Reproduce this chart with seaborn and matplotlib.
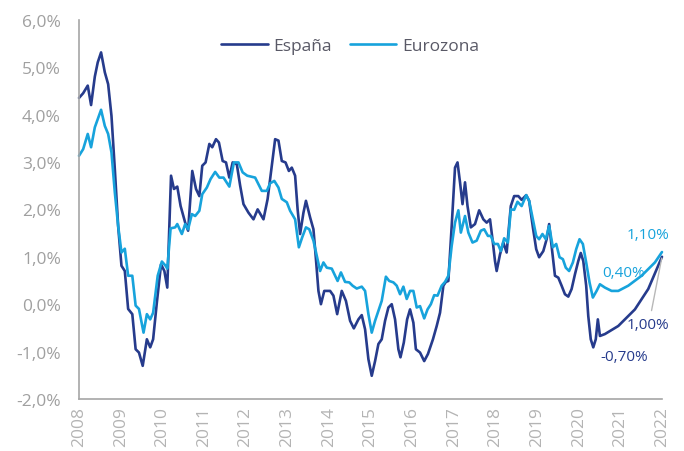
import matplotlib
matplotlib.use("Agg")
import matplotlib.pyplot as plt
import seaborn as sns
import pandas as pd

# ---- data ----
esp_fecha = [2008.00, 2008.10, 2008.21, 2008.29, 2008.38, 2008.45, 2008.53, 2008.62, 2008.70, 2008.78,
             2008.86, 2008.94, 2009.02, 2009.10, 2009.18, 2009.28, 2009.36, 2009.44, 2009.53, 2009.63,
             2009.71, 2009.78, 2009.87, 2009.97, 2010.05, 2010.12, 2010.21, 2010.28, 2010.36, 2010.44,
             2010.55, 2010.62, 2010.72, 2010.81, 2010.89, 2010.96, 2011.04, 2011.13, 2011.20, 2011.29,
             2011.36, 2011.45, 2011.53, 2011.61, 2011.69, 2011.79, 2011.87, 2011.95, 2012.07, 2012.19,
             2012.29, 2012.43, 2012.53, 2012.63, 2012.71, 2012.79, 2012.87, 2012.96, 2013.04, 2013.11,
             2013.19, 2013.25, 2013.31, 2013.39, 2013.45, 2013.55, 2013.63, 2013.69, 2013.75, 2013.81,
             2013.89, 2014.03, 2014.11, 2014.20, 2014.31, 2014.41, 2014.51, 2014.60, 2014.71, 2014.79,
             2014.87, 2014.95, 2015.03, 2015.11, 2015.19, 2015.27, 2015.35, 2015.43, 2015.51, 2015.59,
             2015.67, 2015.72, 2015.80, 2015.88, 2015.95, 2016.03, 2016.09, 2016.19, 2016.29, 2016.38,
             2016.50, 2016.59, 2016.67, 2016.75, 2016.81, 2016.87, 2016.95, 2017.03, 2017.09, 2017.15,
             2017.21, 2017.27, 2017.33, 2017.41, 2017.51, 2017.61, 2017.71, 2017.79, 2017.87, 2017.93,
             2017.99, 2018.03, 2018.11, 2018.19, 2018.27, 2018.37, 2018.45, 2018.55, 2018.63, 2018.74,
             2018.81, 2018.90, 2018.98, 2019.05, 2019.15, 2019.23, 2019.29, 2019.38, 2019.43, 2019.51,
             2019.59, 2019.67, 2019.75, 2019.83, 2019.91, 2019.99, 2020.05, 2020.11, 2020.18, 2020.23,
             2020.29, 2020.35, 2020.41, 2020.46, 2020.51, 2020.63, 2020.95, 2021.35, 2021.67, 2022.00]
esp_valor = [4.35, 4.45, 4.61, 4.20, 4.80, 5.10, 5.31, 4.89, 4.64, 3.97,
             2.85, 1.65, 0.81, 0.70, -0.10, -0.21, -0.95, -1.02, -1.30, -0.74,
             -0.91, -0.74, 0.04, 0.84, 0.70, 0.35, 2.71, 2.43, 2.48, 2.07,
             1.72, 1.55, 2.81, 2.43, 2.28, 2.92, 2.99, 3.38, 3.31, 3.48,
             3.41, 3.02, 2.99, 2.67, 2.99, 2.95, 2.50, 2.11, 1.93, 1.79,
             2.00, 1.79, 2.22, 2.92, 3.48, 3.45, 3.02, 2.99, 2.81, 2.88,
             2.71, 2.00, 1.48, 1.93, 2.18, 1.83, 1.58, 0.95, 0.28, 0.00,
             0.28, 0.28, 0.18, -0.21, 0.28, 0.07, -0.35, -0.51, -0.32, -0.23,
             -0.53, -1.16, -1.51, -1.20, -0.84, -0.74, -0.35, -0.07, 0.00, -0.32,
             -0.95, -1.12, -0.81, -0.32, -0.11, -0.39, -0.95, -1.02, -1.20, -1.05,
             -0.74, -0.46, -0.18, 0.39, 0.47, 0.49, 1.65, 2.88, 2.99, 2.57,
             2.11, 2.57, 2.07, 1.62, 1.69, 1.98, 1.79, 1.72, 1.79, 1.37,
             0.91, 0.70, 1.05, 1.30, 1.09, 2.07, 2.28, 2.28, 2.20, 2.30,
             2.18, 1.62, 1.16, 0.99, 1.12, 1.37, 1.69, 0.99, 0.60, 0.56,
             0.39, 0.21, 0.16, 0.32, 0.63, 0.91, 1.08, 0.91, 0.39, -0.25,
             -0.74, -0.91, -0.74, -0.32, -0.67, -0.63, -0.46, -0.11, 0.32, 1.00]

eur_fecha = [2008.00, 2008.10, 2008.21, 2008.29, 2008.38, 2008.45, 2008.53, 2008.62, 2008.70, 2008.78,
             2008.86, 2008.94, 2009.02, 2009.10, 2009.18, 2009.28, 2009.36, 2009.44, 2009.55, 2009.63,
             2009.71, 2009.78, 2009.89, 2009.99, 2010.08, 2010.12, 2010.20, 2010.31, 2010.36, 2010.47,
             2010.55, 2010.62, 2010.71, 2010.79, 2010.89, 2010.96, 2011.07, 2011.16, 2011.27, 2011.37,
             2011.47, 2011.61, 2011.72, 2011.83, 2011.93, 2012.04, 2012.23, 2012.39, 2012.51, 2012.59,
             2012.69, 2012.79, 2012.87, 2012.99, 2013.07, 2013.19, 2013.28, 2013.36, 2013.45, 2013.53,
             2013.63, 2013.71, 2013.79, 2013.87, 2013.95, 2014.07, 2014.15, 2014.21, 2014.29, 2014.39,
             2014.49, 2014.57, 2014.67, 2014.79, 2014.87, 2014.95, 2015.03, 2015.11, 2015.19, 2015.27,
             2015.37, 2015.45, 2015.55, 2015.63, 2015.71, 2015.79, 2015.87, 2015.95, 2016.03, 2016.11,
             2016.19, 2016.29, 2016.37, 2016.45, 2016.53, 2016.61, 2016.71, 2016.79, 2016.87, 2016.95,
             2017.03, 2017.11, 2017.17, 2017.27, 2017.35, 2017.45, 2017.55, 2017.65, 2017.73, 2017.82,
             2017.89, 2017.97, 2018.06, 2018.13, 2018.21, 2018.30, 2018.37, 2018.45, 2018.53, 2018.63,
             2018.74, 2018.81, 2018.90, 2018.98, 2019.05, 2019.13, 2019.21, 2019.29, 2019.38, 2019.46,
             2019.54, 2019.62, 2019.69, 2019.77, 2019.86, 2019.94, 2020.02, 2020.10, 2020.18, 2020.26,
             2020.34, 2020.43, 2020.51, 2020.63, 2020.79, 2020.95, 2021.19, 2021.51, 2021.83, 2022.00]
eur_valor = [3.13, 3.27, 3.59, 3.31, 3.73, 3.90, 4.10, 3.76, 3.59, 3.20,
             2.36, 1.65, 1.09, 1.17, 0.60, 0.60, -0.03, -0.10, -0.60, -0.21,
             -0.32, -0.18, 0.60, 0.90, 0.81, 0.75, 1.60, 1.62, 1.69, 1.48,
             1.69, 1.58, 1.90, 1.86, 1.97, 2.32, 2.46, 2.64, 2.79, 2.67,
             2.67, 2.48, 2.99, 2.99, 2.78, 2.71, 2.67, 2.39, 2.39, 2.55,
             2.60, 2.46, 2.22, 2.15, 1.97, 1.79, 1.20, 1.41, 1.62, 1.58,
             1.34, 1.02, 0.70, 0.88, 0.77, 0.75, 0.60, 0.49, 0.67, 0.47,
             0.46, 0.39, 0.33, 0.37, 0.28, -0.21, -0.60, -0.35, -0.14, 0.07,
             0.58, 0.49, 0.46, 0.39, 0.21, 0.37, 0.11, 0.28, 0.28, -0.07,
             -0.04, -0.30, -0.11, 0.00, 0.19, 0.18, 0.39, 0.47, 0.60, 1.23,
             1.72, 1.98, 1.51, 1.86, 1.51, 1.30, 1.34, 1.55, 1.58, 1.44,
             1.44, 1.27, 1.27, 1.12, 1.39, 1.30, 2.00, 1.99, 2.16, 2.07,
             2.30, 2.18, 1.79, 1.44, 1.37, 1.48, 1.37, 1.65, 1.20, 1.27,
             0.99, 0.95, 0.77, 0.70, 0.88, 1.16, 1.37, 1.27, 0.88, 0.46,
             0.14, 0.28, 0.42, 0.35, 0.28, 0.28, 0.39, 0.60, 0.88, 1.10]

series = ["España", "Eurozona"]
anios = list(range(2008, 2023))
y_ticks = [-2, -1, 0, 1, 2, 3, 4, 5, 6]
y_labels = ["-2,0%", "-1,0%", "0,0%", "1,0%", "2,0%", "3,0%", "4,0%", "5,0%", "6,0%"]
etiquetas_eur = ["1,10%", "0,40%"]
etiquetas_esp = ["1,00%", "-0,70%"]

COL_ESP = "#263B8C"
COL_EUR = "#17A3DC"
GRIS = "#A6A6A6"

sns.set_theme(style="white")
plt.rcParams['font.family'] = ['Open Sans', 'DejaVu Sans']

fig = plt.figure(figsize=(6.84, 4.52), dpi=100)
ax = fig.add_axes([0.1155, 0.115, 0.8523, 0.8392])

df_esp = pd.DataFrame({"fecha": esp_fecha, "valor": esp_valor})
df_eur = pd.DataFrame({"fecha": eur_fecha, "valor": eur_valor})
sns.lineplot(data=df_esp, x="fecha", y="valor", ax=ax, color=COL_ESP, linewidth=1.9,
             sort=False, estimator=None, label=series[0], clip_on=False)
sns.lineplot(data=df_eur, x="fecha", y="valor", ax=ax, color=COL_EUR, linewidth=1.9,
             sort=False, estimator=None, label=series[1], clip_on=False)

ax.set_xlim(anios[0], anios[-1])
ax.set_ylim(y_ticks[0], y_ticks[-1])
ax.set_xticks(anios)
ax.set_xticklabels([str(a) for a in anios], rotation=90, fontsize=12.5, color="#B4B4B4")
ax.set_yticks(y_ticks)
ax.set_yticklabels(y_labels, fontsize=12.5, color="#A0A0A0")
ax.set_xlabel("")
ax.set_ylabel("")

for s in ["top", "right"]:
    ax.spines[s].set_visible(False)
for s in ["left", "bottom"]:
    ax.spines[s].set_color(GRIS)
    ax.spines[s].set_linewidth(1.2)
ax.tick_params(axis="both", direction="in", length=4.5, width=1.1, color=GRIS)
ax.tick_params(axis="y", pad=13)
ax.tick_params(axis="x", pad=5)

leg = ax.legend(loc="center", bbox_to_anchor=(0.465, 0.93), ncol=2, frameon=False,
                fontsize=12.5, handlelength=2.7, columnspacing=1.0, handletextpad=0.35)
for t in leg.get_texts():
    t.set_color("#595966")

# value labels
ax.text(2021.66, 1.46, etiquetas_eur[0], color=COL_EUR, fontsize=11, ha="center", va="center")
ax.text(2021.07, 0.67, etiquetas_eur[1], color=COL_EUR, fontsize=11, ha="center", va="center")
ax.annotate(etiquetas_esp[0], xy=(esp_fecha[-1], esp_valor[-1]), xytext=(2021.67, -0.42),
            color=COL_ESP, fontsize=11, ha="center", va="center",
            arrowprops=dict(arrowstyle="-", color="#B8B8B8", lw=1.0, shrinkA=2, shrinkB=1,
                            relpos=(0.55, 1.0)), annotation_clip=False)
ax.text(2021.09, -1.11, etiquetas_esp[1], color=COL_ESP, fontsize=11, ha="center", va="center")

fig.savefig("out.png", dpi=100)
